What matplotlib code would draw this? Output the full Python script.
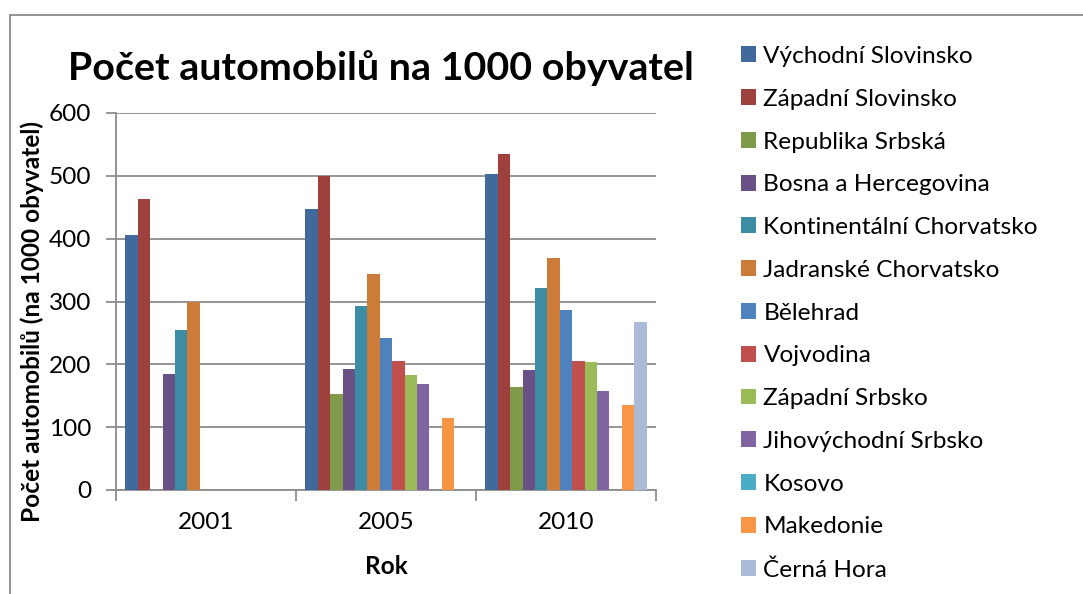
import matplotlib
matplotlib.use('Agg')
import matplotlib.pyplot as plt
import numpy as np
from matplotlib.patches import Rectangle

years = ['2001', '2005', '2010']
series_names = ['Východní Slovinsko', 'Západní Slovinsko', 'Republika Srbská',
                'Bosna a Hercegovina', 'Kontinentální Chorvatsko', 'Jadranské Chorvatsko',
                'Bělehrad', 'Vojvodina', 'Západní Srbsko', 'Jihovýchodní Srbsko',
                'Kosovo', 'Makedonie', 'Černá Hora']
nan = np.nan
vychodni_slovinsko = [406, 448, 503]
zapadni_slovinsko = [463, 500, 535]
republika_srbska = [nan, 152, 164]
bosna_hercegovina = [184, 193, 191]
kontinentalni_chorvatsko = [255, 293, 321]
jadranske_chorvatsko = [300, 343, 369]
belehrad = [nan, 242, 286]
vojvodina = [nan, 205, 206]
zapadni_srbsko = [nan, 183, 203]
jihovychodni_srbsko = [nan, 169, 157]
kosovo = [nan, nan, nan]
makedonie = [nan, 114, 136]
cerna_hora = [nan, nan, 268]
values = [vychodni_slovinsko, zapadni_slovinsko, republika_srbska, bosna_hercegovina,
          kontinentalni_chorvatsko, jadranske_chorvatsko, belehrad, vojvodina,
          zapadni_srbsko, jihovychodni_srbsko, kosovo, makedonie, cerna_hora]
colors = ['#41699C', '#9E413E', '#7F9A48', '#695185', '#3C8DA3', '#CC7B38',
          '#4F81BD', '#C0504D', '#9BBB59', '#8064A2', '#4BACC6', '#F79646', '#AABAD7']

FONT = ['Lato', 'DejaVu Sans']
plt.rcParams['font.family'] = FONT
FS = 17.6

W, H = 1083, 594
fig = plt.figure(figsize=(W / 100, H / 100), dpi=100)

# chart border (cropped on right/bottom in the reference)
fig.patches.append(Rectangle((10 / W, -0.1), 1.2, 1 - 15 / H + 0.1, transform=fig.transFigure,
                             fill=False, edgecolor='#8C8C8C', linewidth=1.3))

left, right, top, bottom = 116, 656, 113, 490
ax = fig.add_axes([left / W, 1 - bottom / H, (right - left) / W, (bottom - top) / H])

n = len(series_names)
gap = 1.5
w = 1.0 / (n + gap)
x = np.arange(len(years))
for i, (name, vals, c) in enumerate(zip(series_names, values, colors)):
    offs = -0.5 + gap * w / 2 + (i + 0.5) * w
    ax.bar(x + offs, vals, width=w, color=c, label=name, edgecolor='none', zorder=3)

ax.set_xlim(-0.5, 2.5)
ax.set_ylim(0, 600)
ax.set_yticks(range(0, 601, 100))
ax.yaxis.grid(True, color='#8C8C8C', linewidth=1.3, zorder=0)
ax.set_axisbelow(True)
for s in ['top', 'right']:
    ax.spines[s].set_visible(False)
for s in ['left', 'bottom']:
    ax.spines[s].set_color('#8C8C8C')
    ax.spines[s].set_linewidth(1.3)
ax.set_xticks([-0.5, 0.5, 1.5, 2.5])
ax.set_xticklabels([])
ax.set_xticks(x, minor=True)
ax.set_xticklabels(years, minor=True)
ax.tick_params(axis='x', which='major', direction='out', length=8, color='#8C8C8C', width=1.3)
ax.tick_params(axis='x', which='minor', length=0, pad=16, labelsize=FS)
ax.tick_params(axis='y', direction='out', length=7, color='#8C8C8C', width=1.3, labelsize=FS, pad=11)

fig.text(381 / W, 1 - 80 / H, 'Počet automobilů na 1000 obyvatel', ha='center', va='baseline',
         fontsize=28.4, fontweight='bold')
fig.text(32 / W, 1 - 322 / H, 'Počet automobilů (na 1000 obyvatel)', ha='center', va='center',
         rotation=90, fontsize=FS, fontweight='bold')
fig.text(386 / W, 1 - 566 / H, 'Rok', ha='center', va='center', fontsize=FS, fontweight='bold')

leg = fig.legend(loc='upper left', bbox_to_anchor=(741 / W, 1 - 46 / H), frameon=False,
                 fontsize=FS, handlelength=0.62, handleheight=0.62, handletextpad=0.3,
                 labelspacing=0.89, borderaxespad=0, borderpad=0)

fig.savefig('out.png', dpi=100)
